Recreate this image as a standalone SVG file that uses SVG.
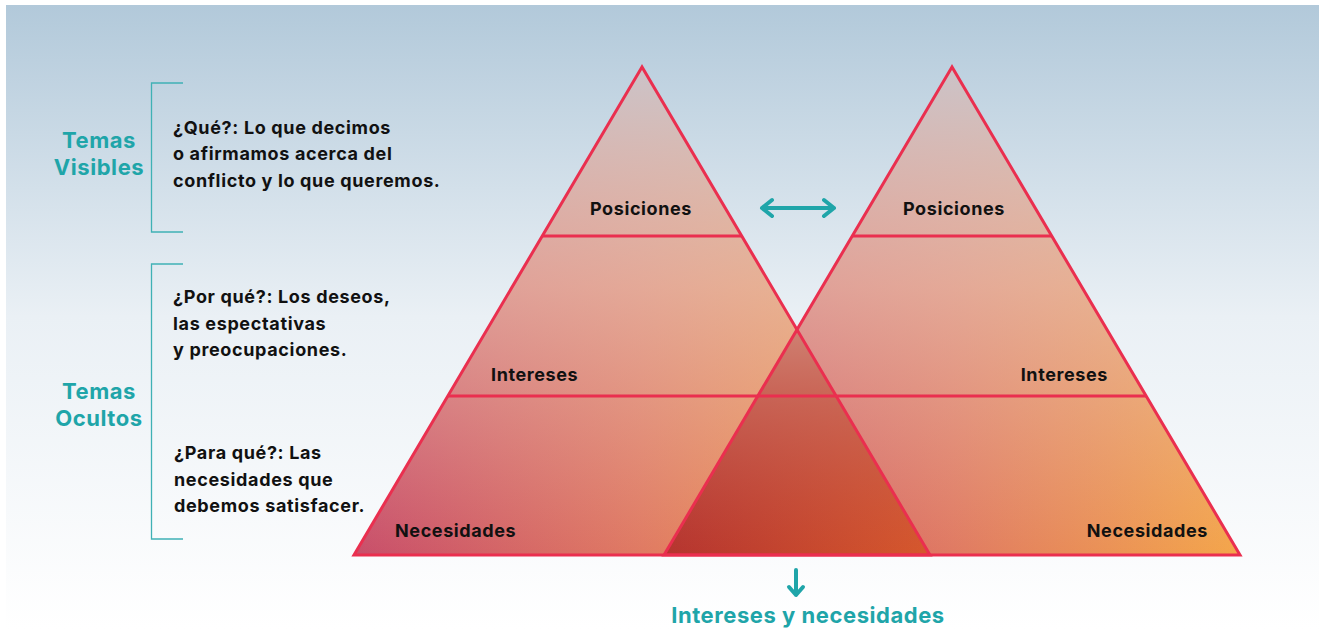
<svg xmlns="http://www.w3.org/2000/svg" width="1319" height="629" viewBox="0 0 1319 629">
<defs>
<linearGradient id="bg" x1="0" y1="0" x2="0" y2="1">
<stop offset="0" stop-color="#b2c9da"/>
<stop offset="0.5" stop-color="#eaf0f5"/>
<stop offset="1" stop-color="#ffffff"/>
</linearGradient>
<linearGradient id="hue" x1="0" y1="0" x2="1" y2="0">
<stop offset="0" stop-color="#c84e6a"/>
<stop offset="0.5" stop-color="#e07a62"/>
<stop offset="1" stop-color="#f4a64a"/>
</linearGradient>
<linearGradient id="veil" x1="0" y1="0" x2="0" y2="1">
<stop offset="0" stop-color="#cbc3c8" stop-opacity="1"/>
<stop offset="0.45" stop-color="#e6c2b4" stop-opacity="0.65"/>
<stop offset="1" stop-color="#e8c0b0" stop-opacity="0"/>
</linearGradient>
<linearGradient id="ovHue" x1="0" y1="0" x2="1" y2="0">
<stop offset="0" stop-color="#b5342f"/>
<stop offset="1" stop-color="#d6582c"/>
</linearGradient>
<linearGradient id="ovVeil" x1="0" y1="0" x2="0" y2="1">
<stop offset="0" stop-color="#cf8072" stop-opacity="1"/>
<stop offset="0.3" stop-color="#ca6e62" stop-opacity="0.75"/>
<stop offset="1" stop-color="#c45a50" stop-opacity="0"/>
</linearGradient>
<style>
.edge{fill:none;stroke:#ea2f4f;stroke-width:3;stroke-linejoin:miter}
.lbl{font-family:Inter,"Liberation Sans",sans-serif;font-weight:700;font-size:18px;letter-spacing:0.6px;fill:#111}
.body{font-family:Inter,"Liberation Sans",sans-serif;font-weight:700;font-size:18px;letter-spacing:0.65px;fill:#111}
.head{font-family:Inter,"Liberation Sans",sans-serif;font-weight:700;font-size:22px;letter-spacing:0.55px;fill:#1fa5a9;text-anchor:middle}
.brk{fill:none;stroke:#3fb1b5;stroke-width:1.3}
.arr{fill:none;stroke:#1fa5a9;stroke-width:4;stroke-linecap:round;stroke-linejoin:round}
</style>
</defs>
<rect x="6" y="5" width="1313" height="624" fill="url(#bg)"/>

<g id="left-pyramid">
<polygon points="642,67 354,555 930,555" fill="url(#hue)"/>
<polygon points="642,67 354,555 930,555" fill="url(#veil)"/>
</g>
<g id="right-pyramid">
<polygon points="952,67 664,555 1240,555" fill="url(#hue)"/>
<polygon points="952,67 664,555 1240,555" fill="url(#veil)"/>
</g>
<g id="overlap">
<polygon points="797,331 664,555 930,555" fill="url(#ovHue)"/>
<polygon points="797,331 664,555 930,555" fill="url(#ovVeil)"/>
</g>
<g id="outlines">
<polygon class="edge" points="642,67 354,555 930,555"/>
<polygon class="edge" points="952,67 664,555 1240,555"/>
<line class="edge" x1="542" y1="236" x2="742" y2="236"/>
<line class="edge" x1="852" y1="236" x2="1052" y2="236"/>
<line class="edge" x1="448" y1="396" x2="1146" y2="396"/>
</g>

<g id="left-labels">
<text class="lbl" x="641" y="215" text-anchor="middle">Posiciones</text>
<text class="lbl" x="491" y="381">Intereses</text>
<text class="lbl" x="395" y="537">Necesidades</text>
</g>
<g id="right-labels">
<text class="lbl" x="954" y="215" text-anchor="middle">Posiciones</text>
<text class="lbl" x="1108" y="381" text-anchor="end">Intereses</text>
<text class="lbl" x="1208" y="537" text-anchor="end">Necesidades</text>
</g>

<g id="visibles">
<path class="brk" d="M183,83 H151.5 V232 H183"/>
<text class="head" x="99" y="148">Temas</text>
<text class="head" x="99" y="175">Visibles</text>
<text class="body" x="173" y="134">¿Qué?: Lo que decimos</text>
<text class="body" x="173" y="160">o afirmamos acerca del</text>
<text class="body" x="173" y="187">conflicto y lo que queremos.</text>
</g>
<g id="ocultos">
<path class="brk" d="M183,264 H151.5 V539 H183"/>
<text class="head" x="99" y="399">Temas</text>
<text class="head" x="99" y="426">Ocultos</text>
<text class="body" x="173" y="303">¿Por qué?: Los deseos,</text>
<text class="body" x="173" y="330">las espectativas</text>
<text class="body" x="173" y="356">y preocupaciones.</text>
<text class="body" x="174" y="459">¿Para qué?: Las</text>
<text class="body" x="174" y="486">necesidades que</text>
<text class="body" x="174" y="512">debemos satisfacer.</text>
</g>

<g id="connectors">
<path class="arr" d="M762,208 H834 M772,200 L762,208 L772,216 M824,200 L834,208 L824,216"/>
<path class="arr" d="M796,570 V595 M789,587 L796,595 L803,587"/>
</g>
<g id="result">
<text class="head" x="808" y="623">Intereses y necesidades</text>
</g>
</svg>
